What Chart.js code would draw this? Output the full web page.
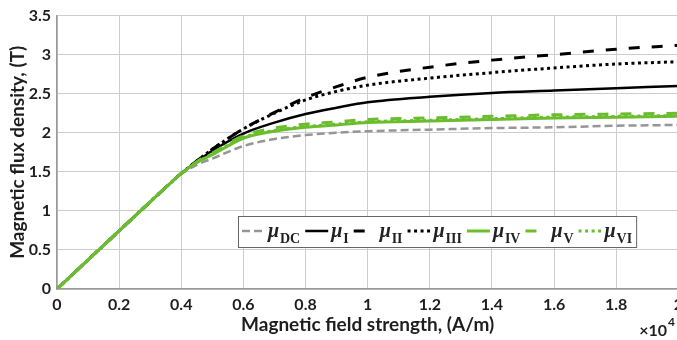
<!DOCTYPE html>
<html>
<head>
<meta charset="utf-8">
<script src="https://cdn.jsdelivr.net/npm/chart.js@4.4.1/dist/chart.umd.min.js"></script>
<style>
  html, body { margin: 0; padding: 0; background: #fff; overflow: hidden; }
  #wrap { width: 689px; height: 340px; }
</style>
</head>
<body>
<div id="wrap"><canvas id="myChart"></canvas></div>
<script>
// H in units of 1e4 A/m
const fieldH = [0, 0.2, 0.35, 0.4, 0.45, 0.5, 0.6, 0.7, 0.8, 0.9, 1.0, 1.2, 1.4, 1.6, 1.8, 2.0];
const muDC  = [0, 0.745, 1.30, 1.47, 1.59, 1.67, 1.83, 1.92, 1.97, 2.00, 2.02, 2.04, 2.06, 2.07, 2.09, 2.10];
const muI   = [0, 0.745, 1.30, 1.48, 1.63, 1.77, 1.99, 2.13, 2.24, 2.32, 2.39, 2.46, 2.51, 2.54, 2.57, 2.60];
const muII  = [0, 0.745, 1.30, 1.48, 1.64, 1.79, 2.05, 2.26, 2.45, 2.59, 2.71, 2.84, 2.93, 3.00, 3.07, 3.12];
const muIII = [0, 0.745, 1.30, 1.48, 1.64, 1.79, 2.05, 2.25, 2.42, 2.53, 2.61, 2.70, 2.77, 2.83, 2.88, 2.91];
const muIV  = [0, 0.745, 1.30, 1.48, 1.62, 1.72, 1.93, 2.02, 2.07, 2.10, 2.13, 2.15, 2.17, 2.19, 2.20, 2.21];
const muV   = [0, 0.745, 1.30, 1.48, 1.63, 1.74, 1.96, 2.06, 2.11, 2.14, 2.17, 2.19, 2.21, 2.23, 2.24, 2.25];
const muVI  = [0, 0.745, 1.30, 1.48, 1.62, 1.73, 1.94, 2.03, 2.08, 2.11, 2.14, 2.16, 2.18, 2.20, 2.21, 2.22];
const seriesSubs = ['DC', 'I', 'II', 'III', 'IV', 'V', 'VI'];
const xTickVals = [0, 0.2, 0.4, 0.6, 0.8, 1, 1.2, 1.4, 1.6, 1.8, 2];
const yTickVals = [0, 0.5, 1, 1.5, 2, 2.5, 3, 3.5];

const GRAY = '#969696';
const BLACK = '#000000';
const GREEN = '#6abd2d';
const axisFont = { family: 'Lato', weight: 'bold', size: 16 };
const titleFont = { family: 'Lato', weight: 'bold', size: 19 };
const textColor = '#1e1e1e';

function pts(ys) {
  return fieldH.map((x, i) => ({ x: x, y: ys[i] }));
}

const styles = [
  { data: muDC,  color: GRAY,  width: 2.5, dash: [8, 4], order: 1 },
  { data: muI,   color: BLACK, width: 2.5, dash: [],     order: 1 },
  { data: muII,  color: BLACK, width: 3,   dash: [11, 12], order: 1 },
  { data: muIII, color: BLACK, width: 3,   dash: [3, 3.5], order: 1 },
  { data: muIV,  color: GREEN, width: 3,   dash: [],     order: 0 },
  { data: muV,   color: GREEN, width: 3,   dash: [11, 12], order: 0 },
  { data: muVI,  color: GREEN, width: 3,   dash: [3, 3.5], order: 0 }
];

// legend with subscripts, drawn on the canvas
const muLegend = {
  id: 'muLegend',
  afterDraw(chart) {
    const ctx = chart.ctx;
    const left = 238, top = 216, h = 31;
    const lineY = top + 15, baseMu = top + 21, baseSub = top + 27;
    ctx.save();
    let x = left + 4;
    const items = [];
    chart.data.datasets.forEach((ds, i) => {
      ctx.font = 'bold 14px "Liberation Serif"';
      const sw = ctx.measureText(seriesSubs[i]).width;
      items.push({ x: x, ds: ds, sub: seriesSubs[i], sw: sw });
      x += 26 + 12 + sw + 5;
    });
    const right = x - 1;
    ctx.fillStyle = '#fff';
    ctx.fillRect(left, top, right - left, h);
    ctx.strokeStyle = '#666';
    ctx.lineWidth = 1;
    ctx.strokeRect(left + 0.5, top + 0.5, right - left, h);
    items.forEach(it => {
      ctx.beginPath();
      ctx.setLineDash(it.ds.borderDash || []);
      ctx.strokeStyle = it.ds.borderColor;
      ctx.lineWidth = it.ds.borderWidth;
      ctx.moveTo(it.x, lineY);
      ctx.lineTo(it.x + 23, lineY);
      ctx.stroke();
      ctx.setLineDash([]);
      ctx.fillStyle = '#222';
      ctx.textBaseline = 'alphabetic';
      ctx.textAlign = 'left';
      ctx.font = 'bold italic 20px "Liberation Serif"';
      ctx.fillText('\u03bc', it.x + 26, baseMu);
      ctx.font = 'bold 14px "Liberation Serif"';
      ctx.fillText(it.sub, it.x + 38, baseSub);
    });
    // x10^4 exponent label
    ctx.fillStyle = textColor;
    ctx.font = 'bold 16px Lato';
    ctx.textAlign = 'right';
    ctx.fillText('\u00d710', 667, 336);
    ctx.font = 'bold 12px Lato';
    ctx.textAlign = 'left';
    ctx.fillText('4', 668, 326);
    ctx.restore();
  }
};

const ctx = document.getElementById('myChart').getContext('2d');
new Chart(ctx, {
  type: 'line',
  data: {
    datasets: styles.map((s, i) => ({
      label: '\u03bc' + seriesSubs[i],
      data: pts(s.data),
      borderColor: s.color,
      borderWidth: s.width,
      borderDash: s.dash,
      borderCapStyle: 'butt',
      order: s.order,
      fill: false,
      pointRadius: 0,
      cubicInterpolationMode: 'monotone'
    }))
  },
  options: {
    responsive: true,
    maintainAspectRatio: false,
    animation: false,
    layout: { padding: { top: 12, left: 0, right: 0, bottom: 0 } },
    plugins: {
      legend: { display: false },
      tooltip: { enabled: false }
    },
    scales: {
      x: {
        type: 'linear',
        min: 0,
        max: 2,
        afterBuildTicks: s => { s.ticks = xTickVals.map(v => ({ value: v })); },
        afterFit: s => { s.height = 51; },
        ticks: { padding: 6, color: textColor, font: axisFont, maxRotation: 0,
                 callback: v => String(Number(v.toFixed(1))) },
        grid: { color: '#cdcdcd', drawTicks: false },
        border: { color: '#999', width: 1.5 },
        title: { display: true, text: 'Magnetic field strength, (A/m)', color: textColor,
                 font: titleFont, padding: { top: 0, bottom: 4 } }
      },
      y: {
        min: 0,
        max: 3.5,
        afterBuildTicks: s => { s.ticks = yTickVals.map(v => ({ value: v })); },
        afterFit: s => { s.width = 57; },
        ticks: { padding: 6, color: textColor, font: axisFont,
                 callback: v => String(Number(v.toFixed(1))) },
        grid: { color: '#cdcdcd', drawTicks: false },
        border: { color: '#999', width: 1.5 },
        title: { display: true, text: 'Magnetic flux density, (T)', color: textColor,
                 font: titleFont, padding: { top: 6, bottom: 0 } }
      }
    }
  },
  plugins: [muLegend]
});
</script>
</body>
</html>
